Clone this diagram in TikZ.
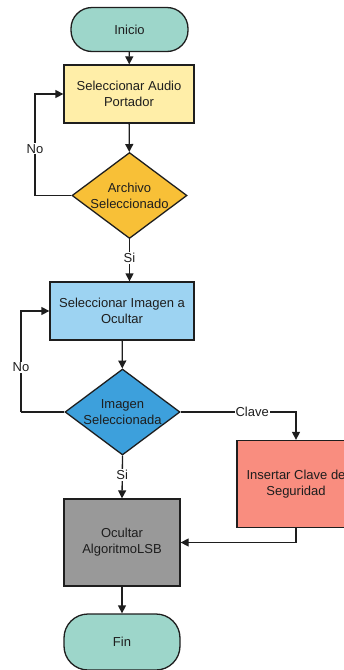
\documentclass[tikz,border=0pt]{standalone}
\usepackage{fontspec}
\setmainfont{Liberation Sans}
\usetikzlibrary{shapes.geometric,arrows.meta}

\definecolor{teal}{HTML}{9DD6CA}
\definecolor{paleyellow}{HTML}{FFEEA8}
\definecolor{amber}{HTML}{F8C037}
\definecolor{skyblue}{HTML}{9DD3F2}
\definecolor{midblue}{HTML}{3DA0DC}
\definecolor{midgray}{HTML}{999999}
\definecolor{salmon}{HTML}{F98D7F}
\definecolor{ink}{HTML}{1E1E1E}

\tikzset{
  base/.style={draw=ink, line width=1.3pt, text=ink, align=center,
    font=\fontsize{13}{16}\selectfont, inner sep=0pt},
  terminal/.style={base, rectangle, rounded corners=21pt},
  process/.style={base, rectangle},
  decision/.style={base, diamond, minimum width=115pt, minimum height=86pt},
  arr/.style={draw=ink, line width=1.3pt, -{Triangle[length=8pt,width=8pt]}},
  lbl/.style={fill=white, text=ink, font=\fontsize{13}{16}\selectfont, inner sep=1pt}
}

\begin{document}
\begin{tikzpicture}[x=1pt, y=-1pt]
  \useasboundingbox (0,0) rectangle (344,670);
  \clip (0,0) rectangle (344,670);

  % process nodes
  \node[terminal, fill=teal, minimum width=117pt, minimum height=44pt] (inicio) at (129.5,29.5) {Inicio};
  \node[process, fill=paleyellow, minimum width=130pt, minimum height=58pt] (audio) at (129,94) {Seleccionar Audio\\Portador};
  \node[decision, fill=amber, label={[align=center, text=ink, font=\fontsize{13}{16}\selectfont]center:Archivo\\Seleccionado}] (archivo) at (129.5,195.5) {};
  \node[process, fill=skyblue, minimum width=144pt, minimum height=58pt] (selimg) at (122,311) {Seleccionar Imagen a\\Ocultar};
  \node[decision, fill=midblue, label={[align=center, text=ink, font=\fontsize{13}{16}\selectfont]center:Imagen\\Seleccionada}] (imagen) at (122.5,412) {};
  \node[process, fill=salmon, minimum width=118pt, minimum height=87pt] (clave) at (296,484) {Insertar Clave de\\Seguridad};
  \node[process, fill=midgray, minimum width=116pt, minimum height=87pt] (ocultar) at (122,542.5) {Ocultar\\AlgoritmoLSB};
  \node[terminal, fill=teal, minimum width=116pt, minimum height=56pt, rounded corners=24pt] (fin) at (122,642) {Fin};

  % loop-back corners
  \coordinate (loopA) at (35,195.5);
  \coordinate (loopB) at (21,412);

  % connectors
  \draw[arr] (inicio) -- (audio);
  \draw[arr] (audio) -- (archivo);
  \draw[line width=1.3pt, draw=ink] (archivo.west) -- (loopA);
  \draw[arr] (loopA) |- node[lbl, pos=0.23] {No} (audio.west);
  \draw[arr] (archivo.south) -- node[lbl, pos=0.45] {Si} (archivo.south |- selimg.north);
  \draw[arr] (selimg) -- (imagen);
  \draw[line width=1.3pt, draw=ink] (imagen.west) -- (loopB);
  \draw[arr] (loopB) |- node[lbl, pos=0.22] {No} (selimg.west);
  \draw[arr] (imagen.east) -| node[lbl, pos=0.31] {Clave} (clave.north);
  \draw[arr] (imagen.south) -- node[lbl, pos=0.45] {Si} (ocultar.north);
  \draw[arr] (clave.south) |- (ocultar.east);
  \draw[arr] (ocultar) -- (fin);
\end{tikzpicture}
\end{document}
